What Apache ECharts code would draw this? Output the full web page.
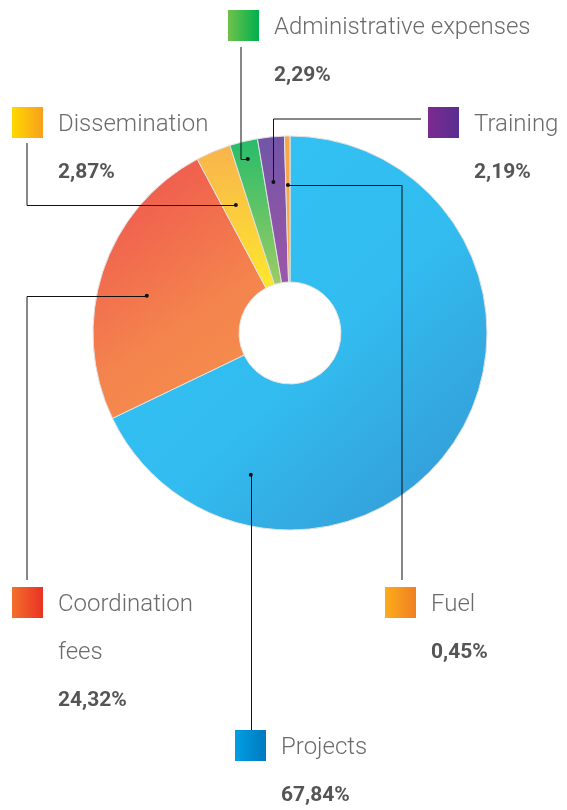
<!DOCTYPE html>
<html lang="en">
<head>
  <meta charset="UTF-8">
  <title>Budget breakdown</title>
  <script src="https://cdn.jsdelivr.net/npm/echarts@6/dist/echarts.min.js"></script>
  <style>
    html, body { margin: 0; padding: 0; background: #fff; }
    #chart { width: 567px; height: 810px; }
  </style>
</head>
<body>
<div id="chart"></div>
<script>
  // data, clockwise from the top of the ring
  var categories = ['Projects', 'Coordination fees', 'Dissemination', 'Administrative expenses', 'Training', 'Fuel'];
  var values = [67.84, 24.32, 2.87, 2.29, 2.19, 0.45];
  var valueLabels = ['67,84%', '24,32%', '2,87%', '2,29%', '2,19%', '0,45%'];
  var nameLines = [['Projects'], ['Coordination', 'fees'], ['Dissemination'], ['Administrative expenses'], ['Training'], ['Fuel']];

  var G = echarts.graphic.LinearGradient;
  var cx = 290, cy = 333, rIn = 51, rOut = 197;

  // slice fills
  var sliceFill = [
    new G(0, 0, 1, 1, [{offset: 0, color: '#33c3f5'}, {offset: 0.55, color: '#32bcef'}, {offset: 1, color: '#3595d2'}]),
    new G(0, 0, 1, 1, [{offset: 0, color: '#ee4f4f'}, {offset: 0.6, color: '#f4844d'}, {offset: 1, color: '#f6914c'}]),
    new G(0, 0, 0, 1, [{offset: 0, color: '#f8b34e'}, {offset: 1, color: '#fee72c'}]),
    new G(0, 0, 0, 1, [{offset: 0, color: '#27bc6a'}, {offset: 1, color: '#9ccc64'}]),
    new G(0, 0, 0, 1, [{offset: 0, color: '#7155a7'}, {offset: 1, color: '#9d56a8'}]),
    new G(0, 0, 0, 1, [{offset: 0, color: '#f6a64c'}, {offset: 1, color: '#f7ab48'}])
  ];
  // legend square fills
  var boxFill = [
    ['#009fe2', '#0079c0'], ['#f36f2c', '#e93224'], ['#ffd800', '#f7a01c'],
    ['#6fc24a', '#00af4e'], ['#7d2a8f', '#582e92'], ['#fcac1c', '#f17f21']
  ];
  // legend anchor (square top-left) and leader routing
  var legendPos = [[235, 730], [12, 587], [12, 107], [228, 10], [428, 107], [385, 587]];
  var dotPlace = [[0.80, 147], [0.46, 148], [0.5, 139], [0.5, 179], [0.41, 152], [0.5, 148]];

  var total = values.reduce(function (a, b) { return a + b; }, 0);
  function pointAt(i, t, r) {
    var start = 0;
    for (var k = 0; k < i; k++) start += values[k];
    var f = (start + values[i] * t) / total;
    var a = f * Math.PI * 2;
    return [cx + r * Math.sin(a), cy - r * Math.cos(a)];
  }

  var dots = categories.map(function (c, i) { return pointAt(i, dotPlace[i][0], dotPlace[i][1]); });
  var routes = [
    function (d) { return [d, [d[0], 738]]; },
    function (d) { return [d, [27, d[1]], [27, 580]]; },
    function (d) { return [d, [27, d[1]], [27, 143]]; },
    function (d) { return [d, [241, d[1]], [241, 47]]; },
    function (d) { return [d, [d[0], 119], [421, 119]]; },
    function (d) { return [d, [402, d[1]], [402, 580]]; }
  ];

  var graphics = [];
  categories.forEach(function (c, i) {
    var d = dots[i];
    graphics.push({
      type: 'polyline', z: 100,
      shape: { points: routes[i]([Math.round(d[0]) + 0.5, Math.round(d[1]) + 0.5]) },
      style: { stroke: '#111', lineWidth: 1, fill: null }
    });
    graphics.push({
      type: 'circle', z: 101,
      shape: { cx: d[0], cy: d[1], r: 2 },
      style: { fill: '#111' }
    });
    var p = legendPos[i];
    graphics.push({
      type: 'rect', z: 100,
      shape: { x: p[0], y: p[1], width: 31, height: 31 },
      style: { fill: new G(0, 0, 1, 0, [{offset: 0, color: boxFill[i][0]}, {offset: 1, color: boxFill[i][1]}]) }
    });
    var tx = p[0] + 46;
    nameLines[i].forEach(function (line, j) {
      graphics.push({
        type: 'text', z: 100,
        style: {
          text: line, x: tx, y: p[1] + 18 + j * 48,
          fill: '#6b6b6b', font: '300 24px Roboto',
          verticalAlign: 'middle'
        }
      });
    });
    graphics.push({
      type: 'text', z: 100,
      style: {
        text: valueLabels[i], x: tx, y: p[1] + 18 + nameLines[i].length * 48,
        fill: '#555', font: 'bold 21px Roboto',
        verticalAlign: 'middle'
      }
    });
  });

  var chart = echarts.init(document.getElementById('chart'));
  chart.setOption({
    backgroundColor: '#fff',
    animation: false,
    series: [{
      type: 'pie',
      center: [cx, cy],
      radius: [rIn, rOut],
      startAngle: 90,
      clockwise: true,
      label: { show: false },
      labelLine: { show: false },
      emphasis: { disabled: true },
      itemStyle: { borderColor: '#e2e2e2', borderWidth: 1 },
      data: categories.map(function (c, i) {
        return { name: c, value: values[i], itemStyle: { color: sliceFill[i] } };
      })
    }],
    graphic: graphics
  });
</script>
</body>
</html>
